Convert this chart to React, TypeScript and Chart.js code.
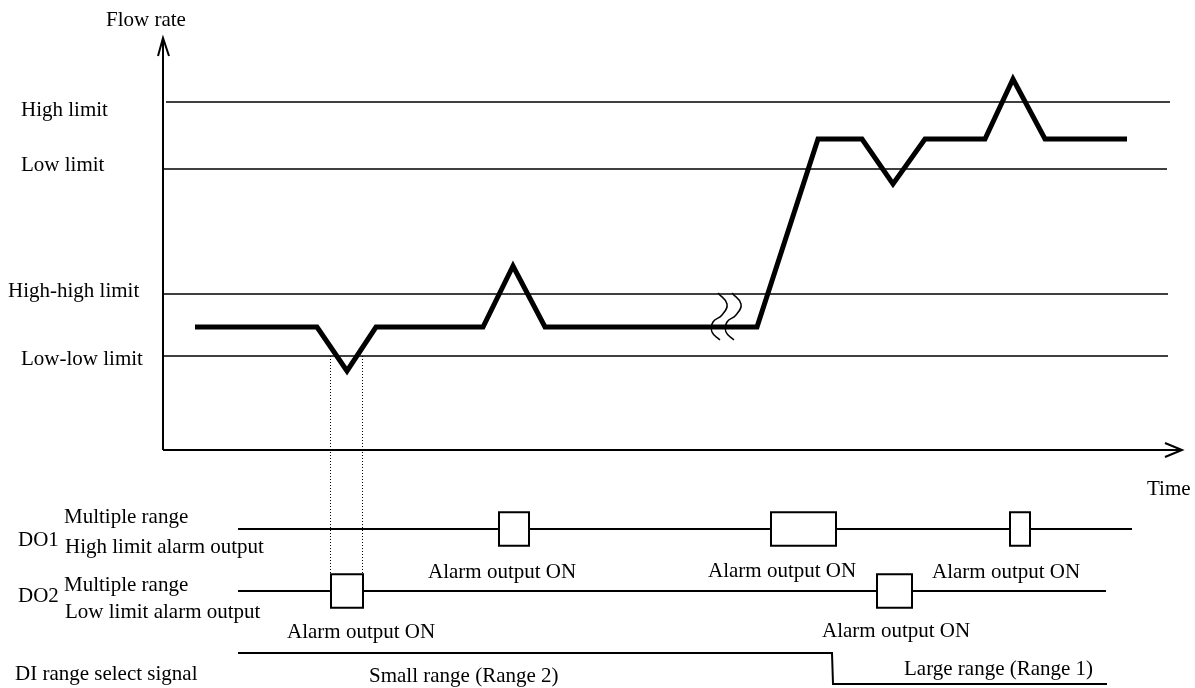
import { useEffect, useRef } from "react";
import { Chart, registerables } from "chart.js";

Chart.register(...registerables);

// ---- scale ranges (time / flow-rate / signal level) ----
const TIME_MIN = -163;
const TIME_MAX = 1032;
const FLOW_MIN = -238;
const FLOW_MAX = 450;
const SIG_MIN = -0.129;
const SIG_MAX = 22.065;

// ---- flow-rate trace ----
const flowTime = [32, 154, 184, 213, 320, 350, 382, 594, 655, 699, 730, 762, 822, 850, 882, 964];
const flowValue = [123, 123, 79, 123, 123, 184, 123, 123, 311, 311, 266, 311, 311, 371, 311, 311];

// ---- limit lines ----
const limitNames = ["High limit", "Low limit", "High-high limit", "Low-low limit"];
const limitValues = [348, 281, 156, 94];
const limitStart = [3, 0, 0, 0];
const limitEnd = [1007, 1004, 1005, 1005];
const limitLabelTime = [-142, -142, -155, -142];
const limitLabelFlow = [334, 279, 153, 85];

// ---- axes ----
const yAxisTop = 412;
const xAxisEnd = 1019;
const yArrowTime = [-5, 0, 6];
const yArrowFlow = [394, 412, 394];
const xArrowTime = [1002, 1019, 1002];
const xArrowFlow = [7, 0, -7];

// ---- break mark (≀≀) ----
const breakTime1 = [555, 564, 559, 550, 549, 557];
const breakTime2 = [569, 578, 573, 564, 563, 571];
const breakFlow = [157, 146, 135, 128, 118, 110];

// ---- digital outputs / input ----
const do1Level = 5;
const do1Span = [75, 969];
const do1Boxes = [[336, 366], [608, 673], [847, 867]];
const do2Level = 3;
const do2Span = [75, 943];
const do2Boxes = [[168, 200], [714, 749]];
const boxHalf = 0.54;
const diTime = [75, 669, 670, 944];
const diLevel = [1, 1, 0, 0];

// dotted connectors (low-low crossing -> DO2 box)
const dottedTimes = [167, 199];

// ---- text labels ----
const upperTexts = ["Flow rate", ...limitNames, "Time"];
const upperTimes = [-57, ...limitLabelTime, 984];
const upperFlows = [424, ...limitLabelFlow, -45];

const lowerTexts = [
  "Multiple range", "DO1", "High limit alarm output",
  "Multiple range", "DO2", "Low limit alarm output",
  "DI range select signal",
  "Alarm output ON", "Alarm output ON", "Alarm output ON",
  "Alarm output ON", "Alarm output ON",
  "Small range (Range 2)", "Large range (Range 1)",
];
const lowerTimes = [-99, -145, -98, -99, -145, -98, -148, 265, 545, 769, 124, 659, 206, 741];
const lowerLevels = [5.19, 4.45, 4.23, 3.0, 2.65, 2.13, 0.13, 3.42, 3.45, 3.42, 1.48, 1.52, 0.06, 0.29];

const FONT = '21px "Liberation Serif", "Times New Roman", serif';

function pts(xs: number[], ys: number[]) {
  return xs.map((x, i) => ({ x, y: ys[i] }));
}

function signalPoints(span: number[], level: number, boxes: number[][]) {
  const out: { x: number; y: number | null }[] = [{ x: span[0], y: level }];
  for (const [a, b] of boxes) {
    out.push(
      { x: a, y: level },
      { x: a, y: level + boxHalf },
      { x: b, y: level + boxHalf },
      { x: b, y: level - boxHalf },
      { x: a, y: level - boxHalf },
      { x: a, y: level },
      { x: (a + b) / 2, y: null },
      { x: b, y: level }
    );
  }
  out.push({ x: span[1], y: level });
  return out;
}

function lineDs(data: any[], width: number, axis = "y", extra: any = {}) {
  return {
    type: "line",
    data,
    yAxisID: axis,
    borderColor: "#000",
    backgroundColor: "#000",
    borderWidth: width,
    pointRadius: 0,
    fill: false,
    tension: 0,
    spanGaps: false,
    borderJoinStyle: "miter",
    borderCapStyle: "butt",
    ...extra,
  };
}

const textPlugin = {
  id: "diagramText",
  afterDatasetsDraw(chart: any) {
    const { ctx, scales } = chart;
    const xs = scales.x;
    const ys = scales.y;
    const ss = scales.sig;
    ctx.save();
    // dotted connectors
    ctx.strokeStyle = "#000";
    ctx.lineWidth = 1;
    ctx.setLineDash([1, 2]);
    for (const t of dottedTimes) {
      const px = Math.round(xs.getPixelForValue(t)) + 0.5;
      ctx.beginPath();
      ctx.moveTo(px, ys.getPixelForValue(limitValues[3]));
      ctx.lineTo(px, ss.getPixelForValue(do2Level + boxHalf));
      ctx.stroke();
    }
    ctx.setLineDash([]);
    // texts
    ctx.fillStyle = "#000";
    ctx.font = FONT;
    ctx.textAlign = "left";
    ctx.textBaseline = "alphabetic";
    upperTexts.forEach((t, i) => {
      ctx.fillText(t, xs.getPixelForValue(upperTimes[i]), ys.getPixelForValue(upperFlows[i]));
    });
    lowerTexts.forEach((t, i) => {
      ctx.fillText(t, xs.getPixelForValue(lowerTimes[i]), ss.getPixelForValue(lowerLevels[i]));
    });
    ctx.restore();
  },
};

export default function App() {
  const ref = useRef<HTMLCanvasElement>(null);
  useEffect(() => {
    document.body.style.margin = "0";
    const datasets: any[] = [];
    // axes
    datasets.push(lineDs([{ x: 0, y: 0 }, { x: 0, y: yAxisTop }], 2));
    datasets.push(lineDs([{ x: 0, y: 0 }, { x: xAxisEnd, y: 0 }], 2));
    datasets.push(lineDs(pts(yArrowTime, yArrowFlow), 2));
    datasets.push(lineDs(pts(xArrowTime, xArrowFlow), 2));
    // limits
    limitValues.forEach((v, i) => {
      datasets.push(lineDs([{ x: limitStart[i], y: v }, { x: limitEnd[i], y: v }], 1.5));
    });
    // flow trace
    datasets.push(lineDs(pts(flowTime, flowValue), 5));
    // break mark
    datasets.push(lineDs(pts(breakTime1, breakFlow), 1.5, "y", { tension: 0.45 }));
    datasets.push(lineDs(pts(breakTime2, breakFlow), 1.5, "y", { tension: 0.45 }));
    // signals
    datasets.push(lineDs(signalPoints(do1Span, do1Level, do1Boxes), 2, "sig"));
    datasets.push(lineDs(signalPoints(do2Span, do2Level, do2Boxes), 2, "sig"));
    datasets.push(lineDs(pts(diTime, diLevel), 2, "sig"));

    const chart = new Chart(ref.current as HTMLCanvasElement, {
      type: "line",
      data: { datasets },
      options: {
        animation: false,
        responsive: false,
        events: [],
        layout: { padding: 0, autoPadding: false },
        plugins: { legend: { display: false }, tooltip: { enabled: false } },
        scales: {
          x: { type: "linear", min: TIME_MIN, max: TIME_MAX, display: false },
          y: { type: "linear", min: FLOW_MIN, max: FLOW_MAX, display: false },
          sig: { type: "linear", min: SIG_MIN, max: SIG_MAX, display: false, position: "left" },
        },
      } as any,
      plugins: [textPlugin],
    } as any);
    return () => chart.destroy();
  }, []);
  return <canvas ref={ref} width={1195} height={688} style={{ display: "block" }} />;
}
